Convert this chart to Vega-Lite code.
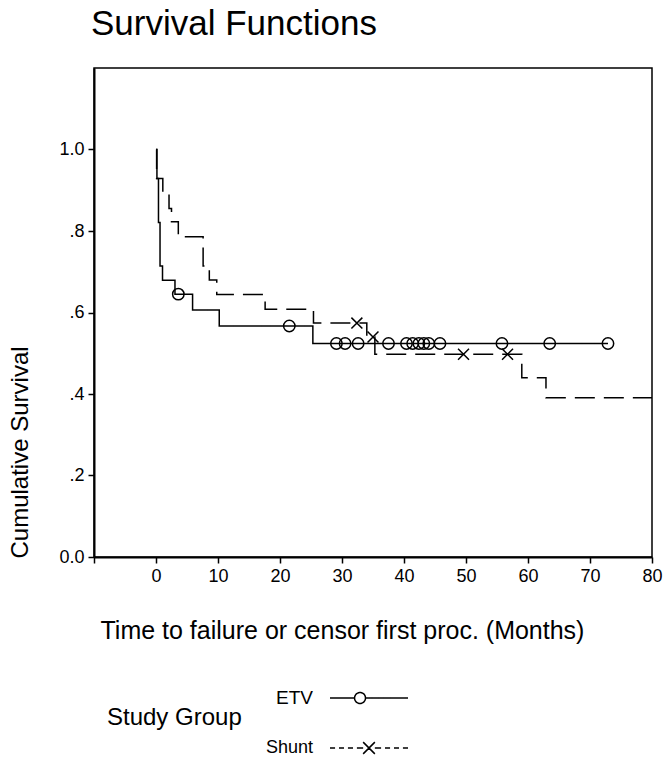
{
  "$schema": "https://vega.github.io/schema/vega-lite/v6.json",
  "width": 558,
  "height": 489,
  "autosize": {"type": "none"},
  "padding": {"left": 94, "top": 68, "right": 14, "bottom": 201},
  "background": "white",
  "config": {
    "font": "Liberation Sans",
    "view": {"stroke": "black", "strokeWidth": 1.5},
    "axis": {
      "domainColor": "black", "domainWidth": 2, "tickColor": "black", "tickWidth": 1.5, "tickSize": 6,
      "labelColor": "black", "labelFontSize": 18, "titleColor": "black", "titleFontWeight": "normal",
      "grid": false, "labelFont": "Liberation Sans", "titleFont": "Liberation Sans"
    }
  },
  "title": {"text": "Survival Functions", "anchor": "start", "frame": "group", "fontSize": 35, "fontWeight": "normal", "color": "black", "baseline": "alphabetic", "offset": 25, "dx": -3, "dy": 27},
  "data": {"values": [
    {"group": "ETV", "time": 0, "surv": 1.0, "type": "step"},
    {"group": "ETV", "time": 0.15, "surv": 0.929, "type": "step"},
    {"group": "ETV", "time": 0.4, "surv": 0.821, "type": "step"},
    {"group": "ETV", "time": 0.65, "surv": 0.714, "type": "step"},
    {"group": "ETV", "time": 1.05, "surv": 0.679, "type": "step"},
    {"group": "ETV", "time": 3.06, "surv": 0.645, "type": "step"},
    {"group": "ETV", "time": 3.6, "surv": 0.645, "type": "censor"},
    {"group": "ETV", "time": 5.9, "surv": 0.606, "type": "step"},
    {"group": "ETV", "time": 10.2, "surv": 0.567, "type": "step"},
    {"group": "ETV", "time": 21.5, "surv": 0.567, "type": "censor"},
    {"group": "ETV", "time": 25.3, "surv": 0.524, "type": "step"},
    {"group": "ETV", "time": 29.1, "surv": 0.524, "type": "censor"},
    {"group": "ETV", "time": 30.5, "surv": 0.524, "type": "censor"},
    {"group": "ETV", "time": 32.6, "surv": 0.524, "type": "censor"},
    {"group": "ETV", "time": 37.5, "surv": 0.524, "type": "censor"},
    {"group": "ETV", "time": 40.4, "surv": 0.524, "type": "censor"},
    {"group": "ETV", "time": 41.4, "surv": 0.524, "type": "censor"},
    {"group": "ETV", "time": 42.4, "surv": 0.524, "type": "censor"},
    {"group": "ETV", "time": 43.2, "surv": 0.524, "type": "censor"},
    {"group": "ETV", "time": 44.0, "surv": 0.524, "type": "censor"},
    {"group": "ETV", "time": 45.8, "surv": 0.524, "type": "censor"},
    {"group": "ETV", "time": 55.8, "surv": 0.524, "type": "censor"},
    {"group": "ETV", "time": 63.5, "surv": 0.524, "type": "censor"},
    {"group": "ETV", "time": 72.9, "surv": 0.524, "type": "censor"},
    {"group": "Shunt", "time": 0, "surv": 1.0, "type": "step"},
    {"group": "Shunt", "time": 0.1, "surv": 0.929, "type": "step"},
    {"group": "Shunt", "time": 1.1, "surv": 0.892, "type": "step"},
    {"group": "Shunt", "time": 2.1, "surv": 0.855, "type": "step"},
    {"group": "Shunt", "time": 2.5, "surv": 0.823, "type": "step"},
    {"group": "Shunt", "time": 3.6, "surv": 0.786, "type": "step"},
    {"group": "Shunt", "time": 7.6, "surv": 0.714, "type": "step"},
    {"group": "Shunt", "time": 8.6, "surv": 0.680, "type": "step"},
    {"group": "Shunt", "time": 9.8, "surv": 0.644, "type": "step"},
    {"group": "Shunt", "time": 17.6, "surv": 0.608, "type": "step"},
    {"group": "Shunt", "time": 25.4, "surv": 0.574, "type": "step"},
    {"group": "Shunt", "time": 32.4, "surv": 0.574, "type": "censor"},
    {"group": "Shunt", "time": 34.0, "surv": 0.540, "type": "step"},
    {"group": "Shunt", "time": 35.0, "surv": 0.540, "type": "censor"},
    {"group": "Shunt", "time": 35.3, "surv": 0.4975, "type": "step"},
    {"group": "Shunt", "time": 49.6, "surv": 0.4975, "type": "censor"},
    {"group": "Shunt", "time": 56.7, "surv": 0.4975, "type": "censor"},
    {"group": "Shunt", "time": 59.0, "surv": 0.440, "type": "step"},
    {"group": "Shunt", "time": 62.9, "surv": 0.391, "type": "step"},
    {"group": "Shunt", "time": 80, "surv": 0.391, "type": "end"}
  ]},
  "layer": [
    {
      "mark": {"type": "line", "interpolate": "step-after", "color": "black", "strokeWidth": 1.5},
      "encoding": {
        "x": {"field": "time", "type": "quantitative",
          "scale": {"domain": [-10, 80], "nice": false, "zero": false},
          "axis": {
            "values": [-10, 0, 10, 20, 30, 40, 50, 60, 70, 80],
            "labelExpr": "datum.value < 0 ? '' : datum.label",
            "labelFlush": false, "labelOverlap": false, "labelPadding": 4,
            "title": "Time to failure or censor first proc. (Months)",
            "titleFontSize": 25, "titleX": 6, "titleAlign": "left", "titleY": 73, "titleBaseline": "middle"
          }},
        "y": {"field": "surv", "type": "quantitative",
          "scale": {"domain": [0, 1.2], "nice": false},
          "axis": {
            "values": [0, 0.2, 0.4, 0.6, 0.8, 1],
            "labelExpr": "datum.value == 0 ? '0.0' : datum.value == 1 ? '1.0' : replace(format(datum.value, '.1f'), '0.', '.')",
            "labelFlush": false, "labelPadding": 4,
            "title": "Cumulative Survival",
            "titleFontSize": 24, "titleAngle": 270, "titleAlign": "left", "titleBaseline": "middle", "titleX": -74, "titleY": 490
          }},
        "strokeDash": {"field": "group", "type": "nominal",
          "scale": {"domain": ["ETV", "Shunt"], "range": [[1, 0], [20, 9]]},
          "legend": {
            "title": "Study Group", "orient": "none", "legendX": 13, "legendY": 590,
            "titleOrient": "left", "titleFontSize": 24, "titleFontWeight": "normal", "titleColor": "black",
            "titleAnchor": "middle", "titlePadding": 87,
            "labelFontSize": 19, "labelColor": "black", "labelAlign": "right", "labelOffset": -96,
            "symbolSize": 1225, "symbolStrokeWidth": 1.5, "symbolStrokeColor": "black", "rowPadding": 0,
            "encode": {
              "title": {"update": {"dy": {"value": 10}}},
              "symbols": {"update": {
                "shape": {"signal": "datum.value === 'ETV' ? 'M-1,0H-0.37M-0.09,0H1M-0.37,0A0.14,0.14 0 1,0 -0.09,0A0.14,0.14 0 1,0 -0.37,0' : 'M-1,0H-0.87M-0.77,0H-0.64M-0.54,0H-0.41M-0.31,0H-0.15M-0.15,-0.15L0.15,0.15M-0.15,0.15L0.15,-0.15M0.15,0H0.31M0.41,0H0.54M0.64,0H0.77M0.87,0H1'"},
                "size": {"value": 6084},
                "strokeDash": {"value": [1, 0]},
                "fill": {"value": "transparent"},
                "stroke": {"value": "black"},
                "strokeWidth": {"value": 1.5}
              }},
              "labels": {"update": {"fontSize": {"signal": "datum.value === 'Shunt' ? 18 : 19"}}}
            }
          }}
      }
    },
    {
      "transform": [{"filter": "datum.type === 'censor' && datum.group === 'ETV'"}],
      "mark": {"type": "point", "shape": "circle", "filled": false, "color": "black", "strokeWidth": 1.5, "size": 130, "opacity": 1},
      "encoding": {
        "x": {"field": "time", "type": "quantitative"},
        "y": {"field": "surv", "type": "quantitative"}
      }
    },
    {
      "transform": [{"filter": "datum.type === 'censor' && datum.group === 'Shunt'"}],
      "mark": {"type": "point", "shape": "M-1,-1L1,1M-1,1L1,-1", "filled": false, "color": "black", "strokeWidth": 1.5, "size": 120, "opacity": 1},
      "encoding": {
        "x": {"field": "time", "type": "quantitative"},
        "y": {"field": "surv", "type": "quantitative"}
      }
    }
  ]
}
